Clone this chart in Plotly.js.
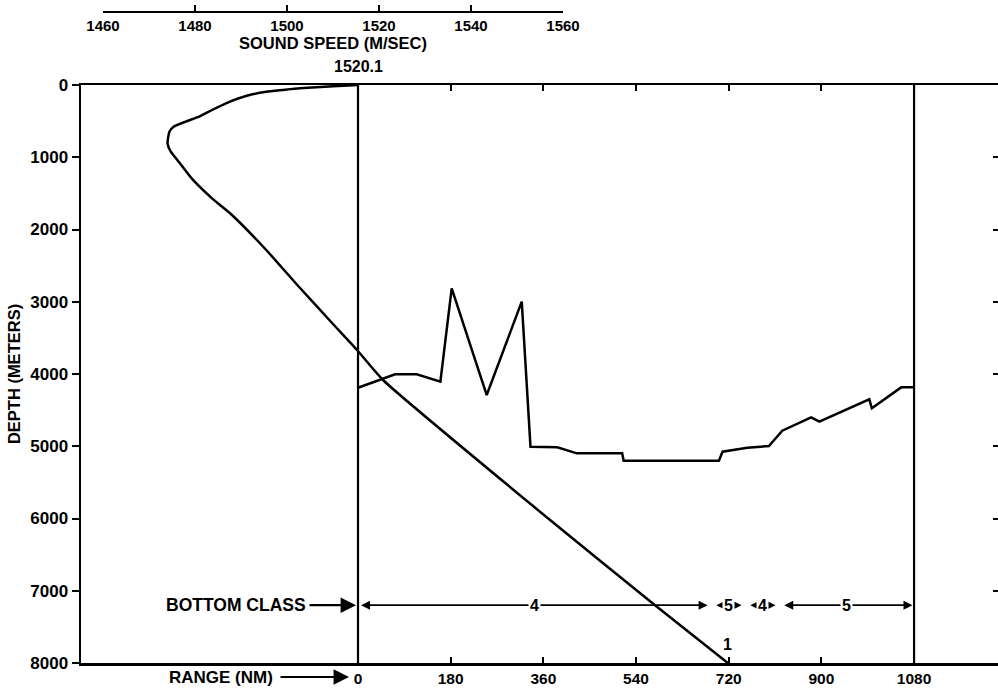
<!DOCTYPE html>
<html><head><meta charset="utf-8">
<script src="https://cdn.plot.ly/plotly-3.0.1.min.js"></script>
<style>html,body{margin:0;padding:0;background:#fff;overflow:hidden}#chart{width:998px;height:690px}</style>
</head><body><div id="chart"></div>
<script>
// ---- Sound-speed profile (m/sec) against depth (m) ----
const soundDepth = [0, 18, 46, 69, 92, 129, 184, 253, 346, 438, 507, 577, 646, 807, 923, 1061, 1292, 1569, 1799, 2284, 2768, 3294, 3668, 4083, 5924, 7200, 8000];
const soundSpeed = [1520.1, 1514.7, 1507.5, 1503.8, 1500.3, 1497.3, 1494.4, 1491.6, 1488.6, 1485.8, 1482.9, 1480.3, 1479.4, 1479.0, 1479.7, 1481.4, 1484.2, 1488.6, 1492.9, 1500.3, 1507.0, 1514.5, 1519.9, 1525.5, 1559.7, 1584.2, 1599.9];
const surfaceSpeed = 1520.1;
const profileLabel = '1';

// ---- Bottom depth along the track: range (NM) and depth (m) ----
const bottomRange = [0, 72, 114, 160, 182, 250, 318, 335, 387, 425, 513, 516, 701, 708, 756, 798, 824, 880, 896, 993, 998, 1055, 1080];
const bottomDepth = [4190, 4005, 4005, 4106, 2814, 4291, 2999, 5006, 5015, 5098, 5098, 5200, 5200, 5075, 5020, 4997, 4785, 4600, 4660, 4350, 4475, 4185, 4185];

// ---- Bottom class segments ----
const classBounds = [0, 686, 752, 818, 1080];
const classLabels = ['4', '5', '4', '5'];
const classDepth = 7200;

// ---- Axis ticks ----
const rangeTicks = [0, 180, 360, 540, 720, 900, 1080];
const depthTicks = [0, 1000, 2000, 3000, 4000, 5000, 6000, 7000, 8000];
const speedTicks = [1460, 1480, 1500, 1520, 1540, 1560];
const rangeLimits = [0, 1080];
const nmPerMps = 180 / 20; // sound-speed scale: 20 m/sec spans the same length as 180 NM

// ---- layout geometry ----
const W = 998, H = 690;
const mL = 81, mR = 0, mT = 0, mB = 27;
const plotH = H - mT - mB;           // 663
const domTop = (plotH - 85) / plotH; // plot frame top at y=85
const xRange = [-538, 1243];
const FONT = 'Liberation Sans, Arial, Helvetica, sans-serif';
const bf = (s) => ({family: FONT, size: s, color: '#000', weight: 'bold'});

const traces = [
  {x: soundSpeed, y: soundDepth, xaxis: 'x3', yaxis: 'y', type: 'scatter', mode: 'lines',
   line: {color: '#000', width: 2.5, shape: 'spline', smoothing: 0.5}, hoverinfo: 'skip', showlegend: false},
  {x: bottomRange, y: bottomDepth, xaxis: 'x', yaxis: 'y', type: 'scatter', mode: 'lines',
   line: {color: '#000', width: 2.5}, hoverinfo: 'skip', showlegend: false},
  {x: speedTicks, y: speedTicks.map(() => null), xaxis: 'x2', yaxis: 'y', type: 'scatter', mode: 'lines',
   hoverinfo: 'skip', showlegend: false},
  {x: [null], y: [null], xaxis: 'x', yaxis: 'y2', type: 'scatter', mode: 'lines', hoverinfo: 'skip', showlegend: false}
];

const shapes = rangeLimits.map(r => ({
  type: 'line', xref: 'x', yref: 'y', x0: r, x1: r, y0: depthTicks[0], y1: depthTicks[depthTicks.length - 1],
  line: {color: '#000', width: 2.2}
}));

const annotations = [];
// surface sound speed label
annotations.push({xref: 'x3', yref: 'paper', x: surfaceSpeed, y: domTop, yanchor: 'bottom', yshift: 8,
  showarrow: false, text: surfaceSpeed.toFixed(1), font: bf(16)});
// profile end label
annotations.push({xref: 'x3', yref: 'y', x: soundSpeed[soundSpeed.length - 1], y: soundDepth[soundDepth.length - 1],
  yshift: 19, showarrow: false, text: profileLabel, font: bf(16)});
// bottom class arrows & labels
for (let i = 0; i < classLabels.length; i++) {
  const b0 = classBounds[i], b1 = classBounds[i + 1];
  const g0 = i === 0 ? 3 : 7, g1 = i === classLabels.length - 1 ? 3 : 7;
  annotations.push({xref: 'x', yref: 'y', axref: 'x', ayref: 'y', x: b1 - g1, y: classDepth, ax: b0 + g0, ay: classDepth,
    text: '', showarrow: true, arrowside: 'end+start', arrowhead: 2, arrowsize: 1, arrowwidth: 1.8, arrowcolor: '#000'});
  annotations.push({xref: 'x', yref: 'y', x: (b0 + b1) / 2, y: classDepth, text: classLabels[i], showarrow: false,
    bgcolor: '#fff', borderpad: 1, font: bf(16)});
}
// BOTTOM CLASS pointer
annotations.push({xref: 'x', yref: 'y', x: classBounds[0], y: classDepth, ax: -50, ay: 0, text: '', showarrow: true,
  arrowhead: 2, arrowsize: 1.4, arrowwidth: 2.2, arrowcolor: '#000', standoff: 2});
annotations.push({xref: 'x', yref: 'y', x: classBounds[0], y: classDepth, xshift: -50, xanchor: 'right', yanchor: 'middle',
  text: 'BOTTOM CLASS', showarrow: false, font: bf(17.5)});
// RANGE (NM) pointer
const rangeRowY = (plotH - 677) / plotH;
annotations.push({xref: 'x', yref: 'paper', x: -17.5, y: rangeRowY, ax: -70, ay: 0, text: '', showarrow: true,
  arrowhead: 2, arrowsize: 1.4, arrowwidth: 2.2, arrowcolor: '#000'});
annotations.push({xref: 'x', yref: 'paper', x: -17.5, y: rangeRowY, xshift: -74, xanchor: 'right', yanchor: 'middle',
  text: 'RANGE (NM)', showarrow: false, font: bf(17)});

const layout = {
  width: W, height: H,
  margin: {l: mL, r: mR, t: mT, b: mB},
  paper_bgcolor: '#fff', plot_bgcolor: 'rgba(0,0,0,0)',
  showlegend: false,
  font: {family: FONT, color: '#000'},
  xaxis: {range: xRange, domain: [0, 1], anchor: 'y', tickmode: 'array', tickvals: rangeTicks,
    ticktext: rangeTicks.map(String), ticks: 'inside', ticklen: 6, tickwidth: 2, tickcolor: '#000',
    showline: true, linewidth: 2.5, linecolor: '#000', mirror: 'ticks', showgrid: false, zeroline: false,
    tickfont: bf(15.5), fixedrange: true},
  xaxis2: {range: [speedTicks[0], speedTicks[speedTicks.length - 1]],
    domain: [(103 - mL) / (W - mL - mR), (563 - mL) / (W - mL - mR)],
    anchor: 'free', position: (plotH - 12) / plotH, side: 'bottom',
    tickmode: 'array', tickvals: speedTicks, ticks: 'inside', ticklen: 6, tickwidth: 2, tickcolor: '#000',
    showline: true, linewidth: 2, linecolor: '#000', showgrid: false, zeroline: false,
    tickfont: bf(15), title: {text: 'SOUND SPEED (M/SEC)', font: bf(16.5), standoff: 3}, fixedrange: true},
  xaxis3: {overlaying: 'x', anchor: 'y', range: xRange.map(r => surfaceSpeed + r / nmPerMps), visible: false,
    showgrid: false, zeroline: false, fixedrange: true},
  yaxis: {range: [depthTicks[depthTicks.length - 1], depthTicks[0]], domain: [0, domTop], anchor: 'x',
    tickmode: 'array', tickvals: depthTicks, ticks: 'outside', ticklen: 7, tickwidth: 2, tickcolor: '#000',
    showline: true, linewidth: 2.5, linecolor: '#000', mirror: false, showgrid: false, zeroline: false,
    tickfont: bf(17), title: {text: 'DEPTH (METERS)', font: bf(16.5), standoff: 6}, fixedrange: true},
  yaxis2: {overlaying: 'y', side: 'right', anchor: 'x', range: [depthTicks[depthTicks.length - 1], depthTicks[0]],
    tickmode: 'array', tickvals: depthTicks, ticks: 'inside', ticklen: 5, tickwidth: 2, tickcolor: '#000',
    showticklabels: false, showline: false, showgrid: false, zeroline: false, fixedrange: true},
  shapes: shapes,
  annotations: annotations
};

Plotly.newPlot('chart', traces, layout, {displayModeBar: false, staticPlot: true});
</script>
</body></html>
